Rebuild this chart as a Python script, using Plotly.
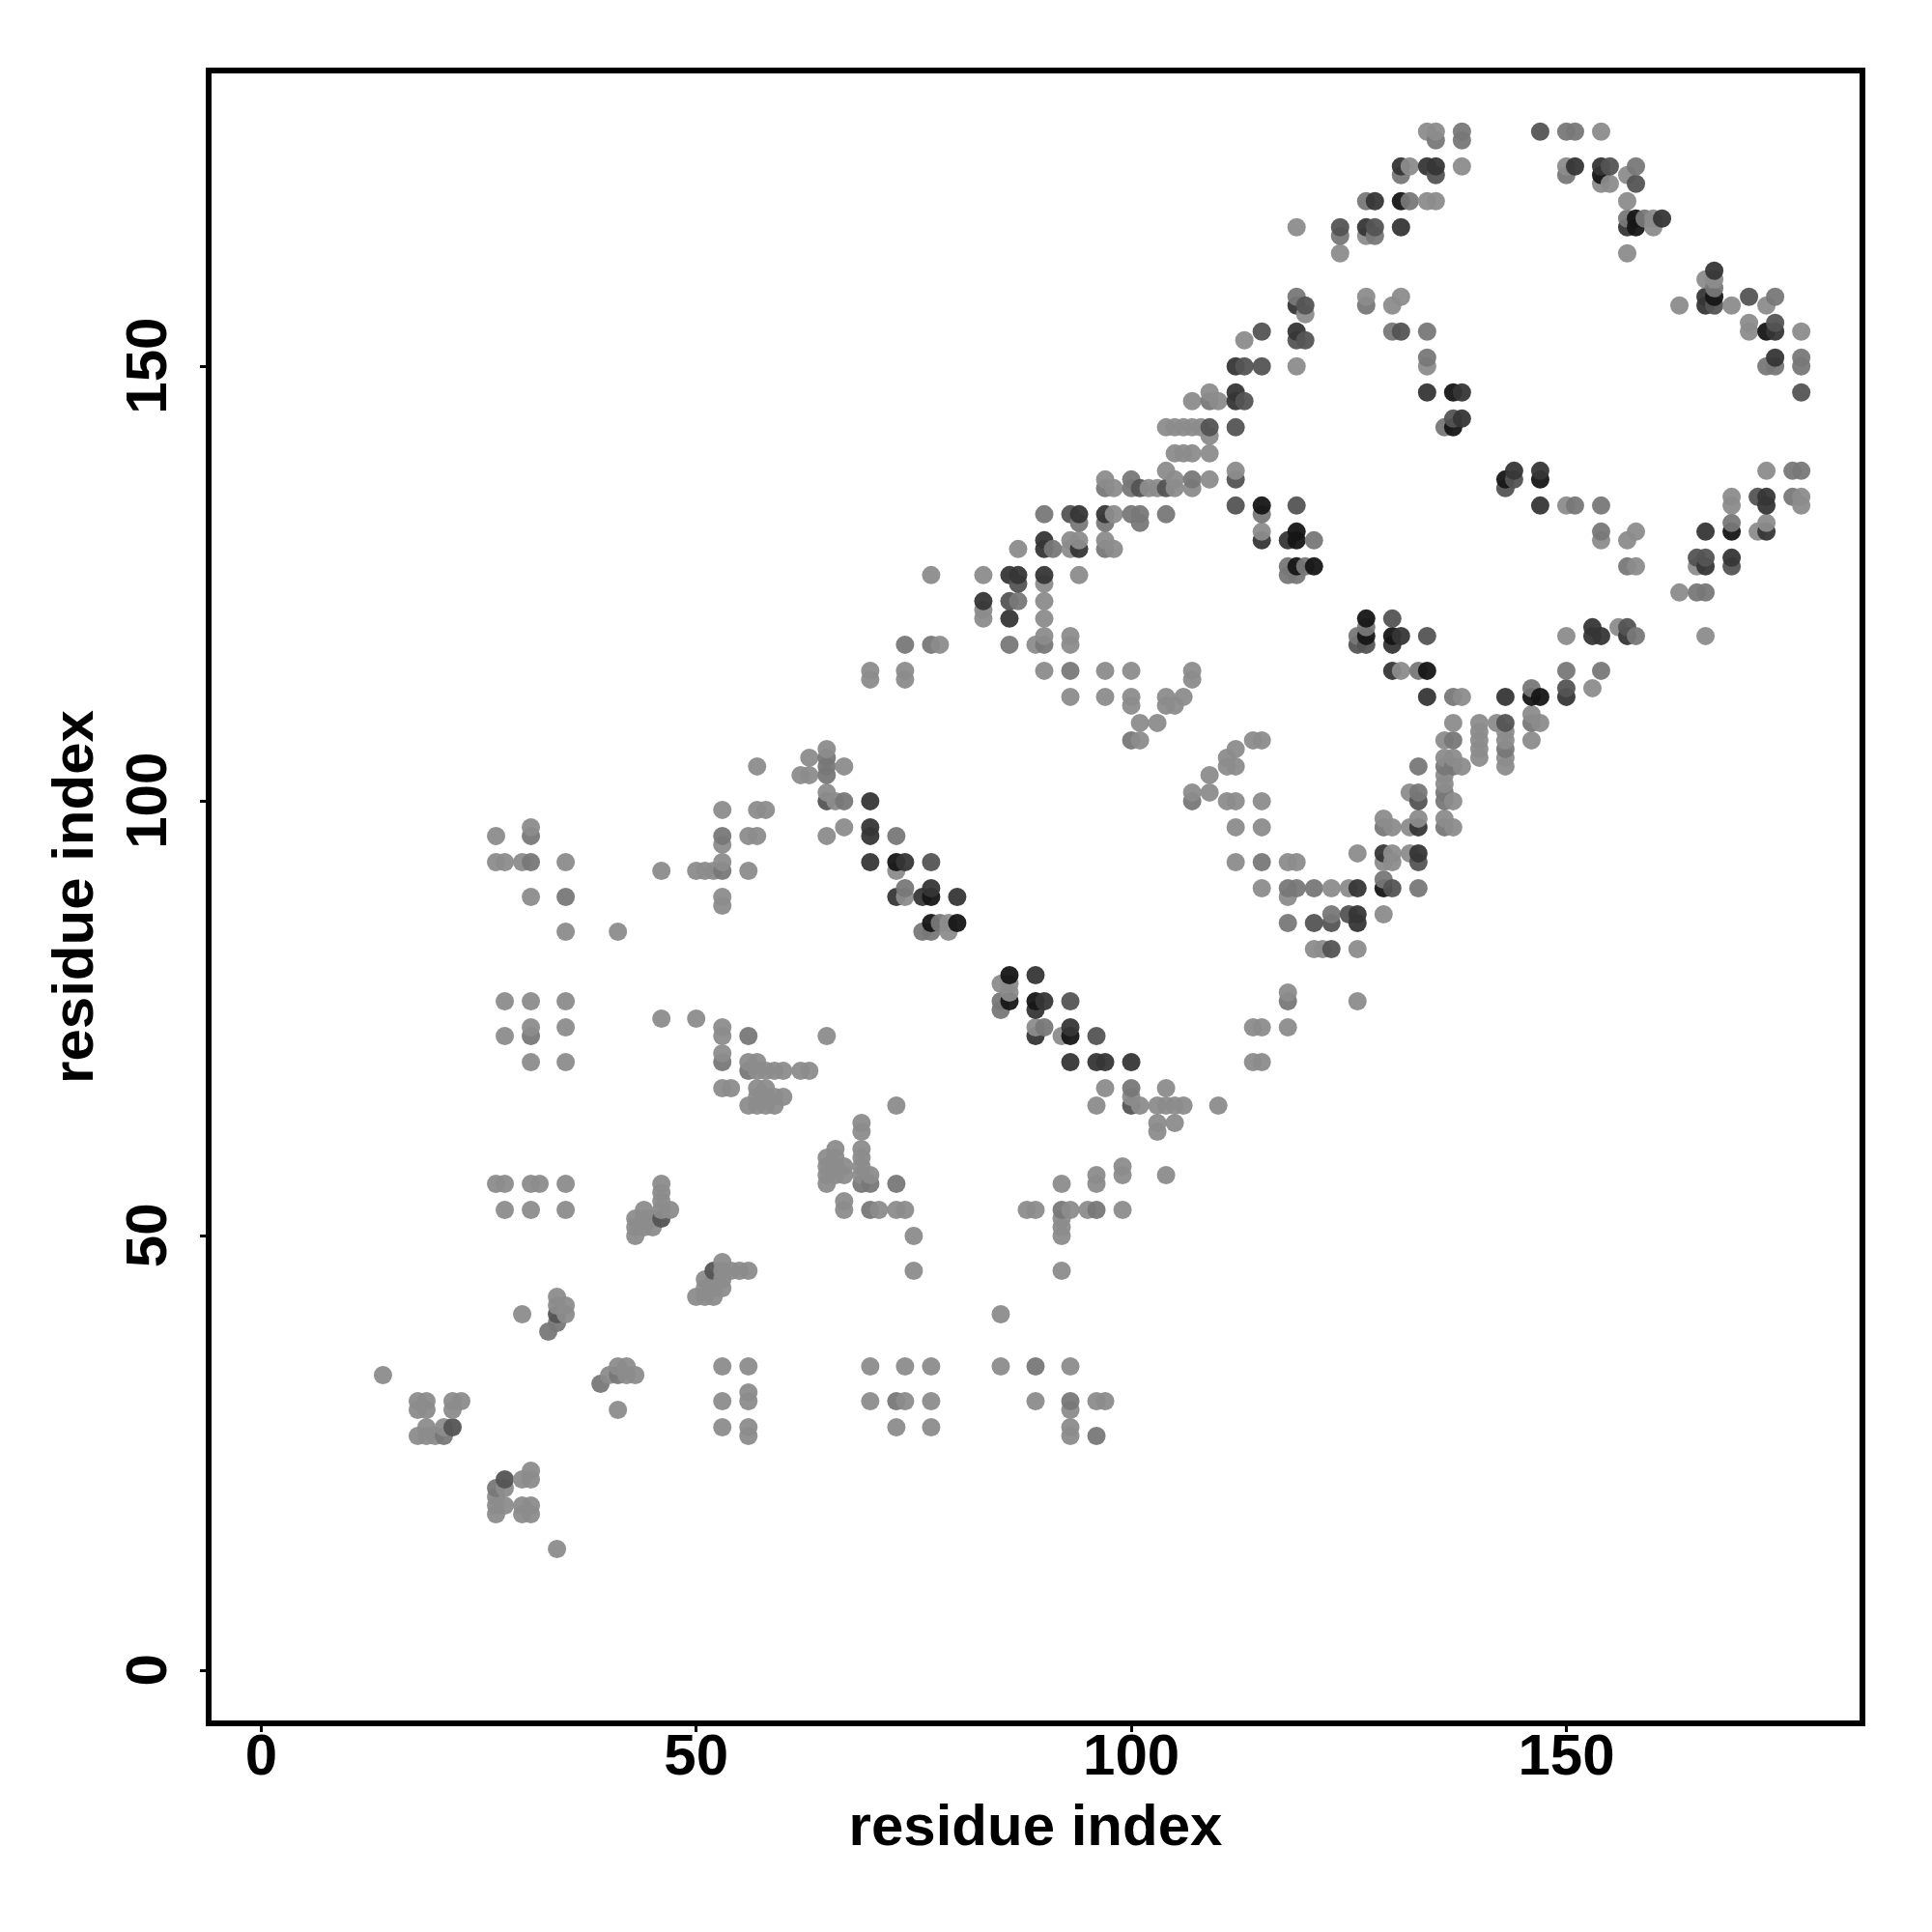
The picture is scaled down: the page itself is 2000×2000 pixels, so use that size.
import plotly.graph_objects as go

tick_values = [0, 50, 100, 150]
axis_title = "residue index"

# contacts (residue i, residue j) grouped by how dark the dot is
contacts_light = [
 (27,56),(28,56),(31,56),(32,56),(35,56),(28,53),(31,53),(35,53),(46,56),(46,55),(46,54),(47,53),(44,53),(43,52),(43,51),(43,50),
 (45,51),(44,52),(46,53),(45,52),(44,51),(53,47),(54,46),(55,46),(56,46),(51,45),(53,46),(53,44),(52,45),(50,43),(51,43),(52,43),
 (51,44),(52,44),(53,45),(30,41),(34,43),(35,42),(35,41),(34,42),(14,34),(18,31),(19,31),(22,31),(23,31),(18,30),(19,30),(22,30),
 (19,28),(21,28),(18,27),(19,27),(20,27),(31,23),(30,22),(31,22),(28,21),(27,20),(27,19),(28,19),(27,18),(30,19),(31,19),(30,18),
 (31,18),(34,14),(53,35),(56,35),(53,31),(56,32),(56,31),(53,28),(56,28),(56,27),(41,30),(40,34),(41,35),(42,35),(42,34),(43,34),
 (69,63),(69,62),(69,60),(69,59),(69,58),(69,57),(70,57),(66,60),(65,59),(65,58),(65,57),(65,56),(66,59),(66,58),(67,58),(67,57),
 (66,57),(67,54),(67,53),(71,53),(73,53),(74,53),(75,50),(75,46),(88,53),(89,53),(93,53),(95,53),(99,53),(92,56),(96,57),(96,56),
 (99,58),(99,57),(104,57),(92,52),(92,51),(92,50),(92,46),(85,41),(70,35),(74,35),(77,35),(85,35),(93,35),(70,31),(74,31),(77,31),
 (89,31),(96,31),(97,31),(93,30),(73,28),(77,28),(93,28),(93,27),(103,63),(103,62),(105,63),
 (27,96),(31,97),(27,93),(28,93),(30,93),(35,93),(31,89),(35,85),(41,85),(28,77),(31,77),(35,77),(28,73),(31,74),(35,74),(31,70),(35,70),
 (46,92),(50,92),(51,92),(52,92),(53,93),(53,95),(53,99),(56,92),(56,96),(57,96),(57,99),(58,99),(57,104),(53,89),(53,88),
 (63,105),(62,103),(63,103),(65,106),(67,104),(65,101),(66,100),(67,97),(65,96),(46,75),(50,75),(53,74),(53,73),(53,71),
 (56,70),(57,70),(57,69),(58,69),(59,69),(60,69),(62,69),(63,69),(65,73),(53,67),(54,67),(60,66),(57,67),(58,67),(56,65),(57,65),
 (58,65),(59,65),(57,66),(58,66),(59,66),(73,65),
 (104,143),(105,143),(106,143),(107,143),(108,143),(105,140),(106,140),(107,140),(109,140),(109,142),(104,138),(112,138),(97,137),
 (105,137),(109,137),(107,136),(102,136),(103,136),(98,136),(105,136),(98,133),(93,130),(94,130),(97,130),(87,129),(93,129),(98,129),
 (83,126),(94,126),(90,125),(90,123),(83,122),(83,121),(90,121),(90,119),(93,119),
 (77,126),(78,118),(89,118),(93,118),(74,115),(90,115),(97,115),(100,115),(107,115),(70,115),(74,114),(70,114),(107,114),(93,112),
 (97,112),(100,112),(104,112),(106,112),(100,111),(104,111),(105,111),(101,109),(103,109),(101,107),(114,107),(115,107),(112,106),
 (111,105),(111,104),(112,104),(109,103),(109,101),(107,101),(111,100),(112,100),(115,100),(112,97),(115,97),(112,93),(118,93),(119,93),
 (115,90),(118,89),(118,78),(114,74),(115,74),(118,74),(114,70),(115,70),(126,77),(126,83),(74,89),(79,86),(79,85),(73,92),
 (85,79),(86,79),(86,78),(89,74),(92,73),(97,67),(104,67),(96,65),(100,66),(101,65),(103,65),(104,65),(105,65),(106,65),(110,65),
 (138,112),(153,113),(137,109),(140,109),(142,109),(146,110),(147,109),(136,107),(140,107),(143,107),(146,107),(140,108),(140,106),
 (140,105),(143,108),(143,105),(143,104),(136,105),(137,105),(138,104),(136,103),(136,102),(137,100),(132,101),(129,98),(133,98),
 (136,98),(130,97),(132,97),(137,97),(126,94),(130,94),(132,94),(129,93),(130,93),(123,90),(125,90),(129,87),(121,83),(122,83),
 (134,177),(135,177),(154,177),(132,173),(138,173),(150,173),(157,172),(154,171),(155,171),(157,169),(134,169),(135,169),(119,166),
 (127,165),(124,163),(127,158),(131,158),(130,157),(120,156),(113,153),(119,150),(134,150),(109,147),(107,146),(110,146),
 (150,134),(115,131),(131,115),(150,119),(156,120),(166,119),(173,138),(169,135),(169,134),(177,135),(177,134),(172,131),(173,132),
 (165,127),(163,124),(154,130),(158,131),(157,130),(158,127),(166,160),(167,160),(173,157),(163,157),(169,157),(171,155),(171,154),
 (177,154),(160,167),(160,166),(157,163),
]
contacts_mid = [
 (33,39),(39,33),(21,27),(27,21),(34,40),(41,34),(73,56),(70,53),(92,53),(96,53),(89,35),(73,31),(93,31),(69,56),(96,27),(70,56),
 (31,96),(31,93),(35,89),(53,92),(53,96),(31,73),(56,73),(53,70),(65,105),(65,104),(65,103),(67,100),(56,69),(73,96),
 (107,137),(100,137),(97,136),(100,136),(90,133),(100,133),(101,133),(104,133),(94,132),(97,132),(101,132),(91,129),(97,129),(87,123),
 (74,118),(77,118),(86,118),(90,118),(93,115),(100,107),(107,100),(115,93),(118,90),(119,90),(118,86),(118,77),(74,90),(78,86),(76,85),(77,85),
 (85,77),(85,76),(90,74),(100,67),(137,112),(146,113),(146,109),(137,107),(143,106),(136,104),(137,104),(133,104),(136,101),(136,100),(133,101),
 (129,97),(136,97),(129,91),(133,90),(121,90),(123,87),(138,177),(135,176),(138,176),(150,177),(151,177),(158,173),(131,172),(150,172),
 (127,169),(132,169),(124,165),(128,165),(119,158),(127,157),(130,154),(134,154),(134,151),(109,146),(136,143),(151,134),(154,134),
 (115,133),(121,130),(118,127),(120,127),(118,126),(119,126),(127,120),(126,119),(133,115),(158,119),(150,115),(154,115),
 (176,138),(177,138),(176,135),(169,132),(165,124),(166,124),(154,131),(157,127),(167,159),(174,158),(173,150),(174,150),(177,151),(177,150),
 (157,167),(159,167),
]
contacts_dark = [
 (46,52),(34,41),(52,46),(22,28),(28,22),(65,100),
 (109,143),(112,143),(112,137),(112,134),(101,136),(104,136),(93,133),(87,125),(86,123),(77,93),(93,77),(96,73),(100,65),
 (143,109),(150,113),(133,100),(133,93),(130,90),(121,86),(123,86),(125,87),(123,83),
 (147,177),(155,173),(158,171),(135,172),(124,166),(128,166),(120,157),(115,154),(131,154),(120,153),(119,153),(113,150),(115,150),(113,146),
 (137,144),(144,137),(143,136),(119,134),(130,121),(134,119),(126,118),(127,118),(157,120),(172,135),(165,128),(166,128),(169,127),
 (171,158),(167,157),(174,155),(177,147),
]
contacts_vdark = [
 (70,100),(70,97),(70,96),(70,93),(73,89),(74,93),(77,90),(76,89),(80,89),
 (94,133),(97,133),(90,130),(90,129),(94,129),(86,126),(87,126),(90,126),(83,123),(86,121),
 (89,80),(90,77),(89,76),(89,73),(93,74),(93,70),(96,70),(97,70),(100,70),
 (134,112),(143,112),(150,112),(129,94),(133,94),(133,97),(129,90),(126,90),(126,87),(126,86),
 (131,173),(134,173),(135,173),(151,173),(154,173),(128,169),(127,166),(131,166),(119,157),(119,154),(112,150),(112,147),(134,147),(138,147),(112,146),
 (138,144),(144,138),(147,138),(147,134),(118,130),(115,130),(131,119),(130,118),(130,115),(153,120),(153,119),(154,119),(157,119),
 (173,135),(173,134),(166,131),(173,131),(169,128),(166,127),(167,161),(166,158),(166,157),(174,154),(174,151),(161,167),(157,166),
]
contacts_black = [
 (73,93),(77,89),(77,86),(80,86),(86,80),(86,77),(89,77),(93,73),
 (146,112),(147,112),(129,90) ,(131,169),(154,172),(137,147),(137,143),(143,137),(147,137),(115,134),(119,131),(119,130),(119,127),(121,127),
 (127,121),(127,119),(130,119),(134,115),(169,131),(167,158),(173,154),(158,167),(158,166),
]
shade_light, shade_mid, shade_dark, shade_vdark, shade_black = 140, 120, 84, 54, 22

shade_of = {}
for pts, s in [(contacts_light, shade_light), (contacts_mid, shade_mid), (contacts_dark, shade_dark),
               (contacts_vdark, shade_vdark), (contacts_black, shade_black)]:
    for p in pts:
        shade_of[p] = s
ordered = sorted(shade_of)
x_vals = [p[0] for p in ordered]
y_vals = [p[1] for p in ordered]
colors = [f"rgba({shade_of[p]},{shade_of[p]},{shade_of[p]},0.95)" for p in ordered]

font = dict(family="Liberation Sans", size=60, color="black", weight="bold")
fig = go.Figure(go.Scatter(x=x_vals, y=y_vals, mode="markers",
                           marker=dict(size=19, color=colors, line=dict(width=0)),
                           showlegend=False, hoverinfo="skip"))
common = dict(tickmode="array", tickvals=tick_values,
              ticks="outside", ticklen=6, tickwidth=3, tickcolor="black",
              showline=True, linewidth=6, linecolor="black", mirror=True,
              showgrid=False, zeroline=False, tickfont=font, automargin=False)
fig.update_xaxes(range=[-5.7, 183.7], ticktext=[str(v) for v in tick_values], ticklabelstandoff=-28,
                 title=dict(text=axis_title, font=font, standoff=21), **common)
fig.update_yaxes(range=[-5.72, 183.7], ticktext=[str(v) + "\u00a0" for v in tick_values], ticklabelstandoff=11,
                 title=dict(text=axis_title, font=font, standoff=4), tickangle=-90, **common)
fig.update_layout(width=2000, height=2000, autosize=False, paper_bgcolor="white", plot_bgcolor="white",
                  margin=dict(l=219, r=75, t=76, b=219, pad=0))
fig.write_html("out.html", config={"displayModeBar": False}, post_script="document.body.style.margin='0';")
